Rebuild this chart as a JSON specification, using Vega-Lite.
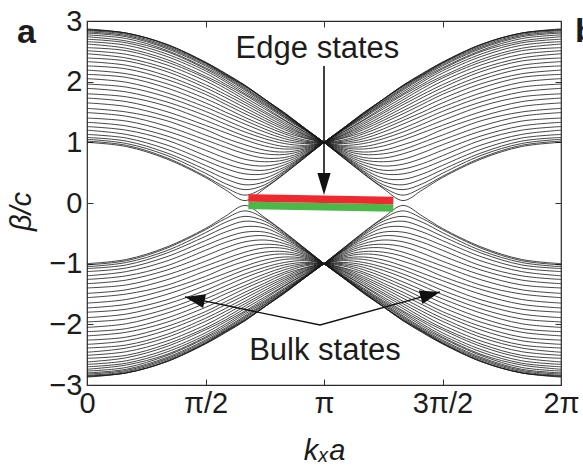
{
"$schema":"https://vega.github.io/schema/vega-lite/v6.json",
"width":474,"height":364,
"autosize":{"type":"none"},
"padding":{"left":87,"top":21,"right":22,"bottom":85},
"background":"#ffffff",
"config":{"font":"Liberation Sans","view":{"stroke":"#2a2a2a","strokeWidth":1.2}},
"resolve":{"axis":{"x":"independent","y":"independent"}},
"layer":[
{"data":{"values":"k,x,y\na1,0,2.87\na1,2,2.8\na1,4,2.62\na1,6,2.32\na1,7,2.14\na1,8,1.94\na1,9,1.71\na1,10,1.49\na1,11,1.24\na1,12,1\nb1,24,2.87\nb1,22,2.8\nb1,20,2.62\nb1,18,2.32\nb1,17,2.14\nb1,16,1.94\nb1,15,1.71\nb1,14,1.49\nb1,13,1.24\nb1,12,1\nc1,0,-2.87\nc1,2,-2.8\nc1,4,-2.62\nc1,6,-2.32\nc1,7,-2.14\nc1,8,-1.94\nc1,9,-1.71\nc1,10,-1.49\nc1,11,-1.24\nc1,12,-1\nd1,24,-2.87\nd1,22,-2.8\nd1,20,-2.62\nd1,18,-2.32\nd1,17,-2.14\nd1,16,-1.94\nd1,15,-1.71\nd1,14,-1.49\nd1,13,-1.24\nd1,12,-1\na2,0,2.86\na2,2,2.8\na2,4,2.62\na2,6,2.32\na2,7,2.13\na2,8,1.94\na2,9,1.71\na2,10,1.48\na2,11,1.24\na2,12,1\nb2,24,2.86\nb2,22,2.8\nb2,20,2.62\nb2,18,2.32\nb2,17,2.13\nb2,16,1.94\nb2,15,1.71\nb2,14,1.48\nb2,13,1.24\nb2,12,1\nc2,0,-2.86\nc2,2,-2.8\nc2,4,-2.62\nc2,6,-2.32\nc2,7,-2.13\nc2,8,-1.94\nc2,9,-1.71\nc2,10,-1.48\nc2,11,-1.24\nc2,12,-1\nd2,24,-2.86\nd2,22,-2.8\nd2,20,-2.62\nd2,18,-2.32\nd2,17,-2.13\nd2,16,-1.94\nd2,15,-1.71\nd2,14,-1.48\nd2,13,-1.24\nd2,12,-1\na3,0,2.85\na3,2,2.8\na3,4,2.61\na3,6,2.31\na3,7,2.12\na3,8,1.93\na3,9,1.71\na3,10,1.48\na3,11,1.24\na3,12,1\nb3,24,2.85\nb3,22,2.8\nb3,20,2.61\nb3,18,2.31\nb3,17,2.12\nb3,16,1.93\nb3,15,1.71\nb3,14,1.48\nb3,13,1.24\nb3,12,1\nc3,0,-2.85\nc3,2,-2.8\nc3,4,-2.61\nc3,6,-2.31\nc3,7,-2.12\nc3,8,-1.93\nc3,9,-1.71\nc3,10,-1.48\nc3,11,-1.24\nc3,12,-1\nd3,24,-2.85\nd3,22,-2.8\nd3,20,-2.61\nd3,18,-2.31\nd3,17,-2.12\nd3,16,-1.93\nd3,15,-1.71\nd3,14,-1.48\nd3,13,-1.24\nd3,12,-1\na4,0,2.84\na4,2,2.78\na4,4,2.59\na4,6,2.3\na4,7,2.11\na4,8,1.92\na4,9,1.7\na4,10,1.47\na4,11,1.23\na4,12,1\nb4,24,2.84\nb4,22,2.78\nb4,20,2.59\nb4,18,2.3\nb4,17,2.11\nb4,16,1.92\nb4,15,1.7\nb4,14,1.47\nb4,13,1.23\nb4,12,1\nc4,0,-2.84\nc4,2,-2.78\nc4,4,-2.59\nc4,6,-2.3\nc4,7,-2.11\nc4,8,-1.92\nc4,9,-1.7\nc4,10,-1.47\nc4,11,-1.23\nc4,12,-1\nd4,24,-2.84\nd4,22,-2.78\nd4,20,-2.59\nd4,18,-2.3\nd4,17,-2.11\nd4,16,-1.92\nd4,15,-1.7\nd4,14,-1.47\nd4,13,-1.23\nd4,12,-1\na5,0,2.82\na5,2,2.76\na5,4,2.57\na5,6,2.28\na5,7,2.1\na5,8,1.9\na5,9,1.68\na5,10,1.46\na5,11,1.23\na5,12,1\nb5,24,2.82\nb5,22,2.76\nb5,20,2.57\nb5,18,2.28\nb5,17,2.1\nb5,16,1.9\nb5,15,1.68\nb5,14,1.46\nb5,13,1.23\nb5,12,1\nc5,0,-2.82\nc5,2,-2.76\nc5,4,-2.57\nc5,6,-2.28\nc5,7,-2.1\nc5,8,-1.9\nc5,9,-1.68\nc5,10,-1.46\nc5,11,-1.23\nc5,12,-1\nd5,24,-2.82\nd5,22,-2.76\nd5,20,-2.57\nd5,18,-2.28\nd5,17,-2.1\nd5,16,-1.9\nd5,15,-1.68\nd5,14,-1.46\nd5,13,-1.23\nd5,12,-1\na6,0,2.8\na6,2,2.74\na6,4,2.55\na6,6,2.26\na6,7,2.08\na6,8,1.88\na6,9,1.67\na6,10,1.45\na6,11,1.22\na6,12,1\nb6,24,2.8\nb6,22,2.74\nb6,20,2.55\nb6,18,2.26\nb6,17,2.08\nb6,16,1.88\nb6,15,1.67\nb6,14,1.45\nb6,13,1.22\nb6,12,1\nc6,0,-2.8\nc6,2,-2.74\nc6,4,-2.55\nc6,6,-2.26\nc6,7,-2.08\nc6,8,-1.88\nc6,9,-1.67\nc6,10,-1.45\nc6,11,-1.22\nc6,12,-1\nd6,24,-2.8\nd6,22,-2.74\nd6,20,-2.55\nd6,18,-2.26\nd6,17,-2.08\nd6,16,-1.88\nd6,15,-1.67\nd6,14,-1.45\nd6,13,-1.22\nd6,12,-1\na7,0,2.77\na7,2,2.71\na7,4,2.52\na7,6,2.23\na7,7,2.06\na7,8,1.86\na7,9,1.65\na7,10,1.43\na7,11,1.22\na7,12,1\nb7,24,2.77\nb7,22,2.71\nb7,20,2.52\nb7,18,2.23\nb7,17,2.06\nb7,16,1.86\nb7,15,1.65\nb7,14,1.43\nb7,13,1.22\nb7,12,1\nc7,0,-2.77\nc7,2,-2.71\nc7,4,-2.52\nc7,6,-2.23\nc7,7,-2.06\nc7,8,-1.86\nc7,9,-1.65\nc7,10,-1.43\nc7,11,-1.22\nc7,12,-1\nd7,24,-2.77\nd7,22,-2.71\nd7,20,-2.52\nd7,18,-2.23\nd7,17,-2.06\nd7,16,-1.86\nd7,15,-1.65\nd7,14,-1.43\nd7,13,-1.22\nd7,12,-1\na8,0,2.74\na8,2,2.67\na8,4,2.5\na8,6,2.21\na8,7,2.03\na8,8,1.83\na8,9,1.63\na8,10,1.42\na8,11,1.21\na8,12,1\nb8,24,2.74\nb8,22,2.67\nb8,20,2.5\nb8,18,2.21\nb8,17,2.03\nb8,16,1.83\nb8,15,1.63\nb8,14,1.42\nb8,13,1.21\nb8,12,1\nc8,0,-2.74\nc8,2,-2.67\nc8,4,-2.5\nc8,6,-2.21\nc8,7,-2.03\nc8,8,-1.83\nc8,9,-1.63\nc8,10,-1.42\nc8,11,-1.21\nc8,12,-1\nd8,24,-2.74\nd8,22,-2.67\nd8,20,-2.5\nd8,18,-2.21\nd8,17,-2.03\nd8,16,-1.83\nd8,15,-1.63\nd8,14,-1.42\nd8,13,-1.21\nd8,12,-1\na9,0,2.7\na9,2,2.64\na9,4,2.46\na9,6,2.18\na9,7,2\na9,8,1.8\na9,9,1.61\na9,10,1.4\na9,11,1.2\na9,12,1\nb9,24,2.7\nb9,22,2.64\nb9,20,2.46\nb9,18,2.18\nb9,17,2\nb9,16,1.8\nb9,15,1.61\nb9,14,1.4\nb9,13,1.2\nb9,12,1\nc9,0,-2.7\nc9,2,-2.64\nc9,4,-2.46\nc9,6,-2.18\nc9,7,-2\nc9,8,-1.8\nc9,9,-1.61\nc9,10,-1.4\nc9,11,-1.2\nc9,12,-1\nd9,24,-2.7\nd9,22,-2.64\nd9,20,-2.46\nd9,18,-2.18\nd9,17,-2\nd9,16,-1.8\nd9,15,-1.61\nd9,14,-1.4\nd9,13,-1.2\nd9,12,-1\na10,0,2.66\na10,2,2.6\na10,4,2.42\na10,6,2.14\na10,7,1.96\na10,8,1.78\na10,9,1.58\na10,10,1.37\na10,11,1.18\na10,12,1\nb10,24,2.66\nb10,22,2.6\nb10,20,2.42\nb10,18,2.14\nb10,17,1.96\nb10,16,1.78\nb10,15,1.58\nb10,14,1.37\nb10,13,1.18\nb10,12,1\nc10,0,-2.66\nc10,2,-2.6\nc10,4,-2.42\nc10,6,-2.14\nc10,7,-1.96\nc10,8,-1.78\nc10,9,-1.58\nc10,10,-1.37\nc10,11,-1.18\nc10,12,-1\nd10,24,-2.66\nd10,22,-2.6\nd10,20,-2.42\nd10,18,-2.14\nd10,17,-1.96\nd10,16,-1.78\nd10,15,-1.58\nd10,14,-1.37\nd10,13,-1.18\nd10,12,-1\na11,0,2.62\na11,2,2.55\na11,4,2.37\na11,6,2.09\na11,7,1.93\na11,8,1.74\na11,9,1.55\na11,10,1.36\na11,11,1.17\na11,12,1\nb11,24,2.62\nb11,22,2.55\nb11,20,2.37\nb11,18,2.09\nb11,17,1.93\nb11,16,1.74\nb11,15,1.55\nb11,14,1.36\nb11,13,1.17\nb11,12,1\nc11,0,-2.62\nc11,2,-2.55\nc11,4,-2.37\nc11,6,-2.09\nc11,7,-1.93\nc11,8,-1.74\nc11,9,-1.55\nc11,10,-1.36\nc11,11,-1.17\nc11,12,-1\nd11,24,-2.62\nd11,22,-2.55\nd11,20,-2.37\nd11,18,-2.09\nd11,17,-1.93\nd11,16,-1.74\nd11,15,-1.55\nd11,14,-1.36\nd11,13,-1.17\nd11,12,-1\na12,0,2.56\na12,2,2.51\na12,4,2.33\na12,6,2.06\na12,7,1.89\na12,8,1.7\na12,9,1.51\na12,10,1.33\na12,11,1.15\na12,12,1\nb12,24,2.56\nb12,22,2.51\nb12,20,2.33\nb12,18,2.06\nb12,17,1.89\nb12,16,1.7\nb12,15,1.51\nb12,14,1.33\nb12,13,1.15\nb12,12,1\nc12,0,-2.56\nc12,2,-2.51\nc12,4,-2.33\nc12,6,-2.06\nc12,7,-1.89\nc12,8,-1.7\nc12,9,-1.51\nc12,10,-1.33\nc12,11,-1.15\nc12,12,-1\nd12,24,-2.56\nd12,22,-2.51\nd12,20,-2.33\nd12,18,-2.06\nd12,17,-1.89\nd12,16,-1.7\nd12,15,-1.51\nd12,14,-1.33\nd12,13,-1.15\nd12,12,-1\na13,0,2.51\na13,2,2.45\na13,4,2.28\na13,6,2.01\na13,7,1.84\na13,8,1.66\na13,9,1.48\na13,10,1.3\na13,11,1.13\na13,12,1\nb13,24,2.51\nb13,22,2.45\nb13,20,2.28\nb13,18,2.01\nb13,17,1.84\nb13,16,1.66\nb13,15,1.48\nb13,14,1.3\nb13,13,1.13\nb13,12,1\nc13,0,-2.51\nc13,2,-2.45\nc13,4,-2.28\nc13,6,-2.01\nc13,7,-1.84\nc13,8,-1.66\nc13,9,-1.48\nc13,10,-1.3\nc13,11,-1.13\nc13,12,-1\nd13,24,-2.51\nd13,22,-2.45\nd13,20,-2.28\nd13,18,-2.01\nd13,17,-1.84\nd13,16,-1.66\nd13,15,-1.48\nd13,14,-1.3\nd13,13,-1.13\nd13,12,-1\na14,0,2.46\na14,2,2.39\na14,4,2.22\na14,6,1.95\na14,7,1.79\na14,8,1.62\na14,9,1.44\na14,10,1.27\na14,11,1.12\na14,12,1\nb14,24,2.46\nb14,22,2.39\nb14,20,2.22\nb14,18,1.95\nb14,17,1.79\nb14,16,1.62\nb14,15,1.44\nb14,14,1.27\nb14,13,1.12\nb14,12,1\nc14,0,-2.46\nc14,2,-2.39\nc14,4,-2.22\nc14,6,-1.95\nc14,7,-1.79\nc14,8,-1.62\nc14,9,-1.44\nc14,10,-1.27\nc14,11,-1.12\nc14,12,-1\nd14,24,-2.46\nd14,22,-2.39\nd14,20,-2.22\nd14,18,-1.95\nd14,17,-1.79\nd14,16,-1.62\nd14,15,-1.44\nd14,14,-1.27\nd14,13,-1.12\nd14,12,-1\na15,0,2.39\na15,2,2.34\na15,4,2.17\na15,6,1.9\na15,7,1.74\na15,8,1.57\na15,9,1.4\na15,10,1.24\na15,11,1.1\na15,12,1\nb15,24,2.39\nb15,22,2.34\nb15,20,2.17\nb15,18,1.9\nb15,17,1.74\nb15,16,1.57\nb15,15,1.4\nb15,14,1.24\nb15,13,1.1\nb15,12,1\nc15,0,-2.39\nc15,2,-2.34\nc15,4,-2.17\nc15,6,-1.9\nc15,7,-1.74\nc15,8,-1.57\nc15,9,-1.4\nc15,10,-1.24\nc15,11,-1.1\nc15,12,-1\nd15,24,-2.39\nd15,22,-2.34\nd15,20,-2.17\nd15,18,-1.9\nd15,17,-1.74\nd15,16,-1.57\nd15,15,-1.4\nd15,14,-1.24\nd15,13,-1.1\nd15,12,-1\na16,0,2.33\na16,2,2.27\na16,4,2.1\na16,6,1.84\na16,7,1.68\na16,8,1.52\na16,9,1.36\na16,10,1.21\na16,11,1.08\na16,12,1\nb16,24,2.33\nb16,22,2.27\nb16,20,2.1\nb16,18,1.84\nb16,17,1.68\nb16,16,1.52\nb16,15,1.36\nb16,14,1.21\nb16,13,1.08\nb16,12,1\nc16,0,-2.33\nc16,2,-2.27\nc16,4,-2.1\nc16,6,-1.84\nc16,7,-1.68\nc16,8,-1.52\nc16,9,-1.36\nc16,10,-1.21\nc16,11,-1.08\nc16,12,-1\nd16,24,-2.33\nd16,22,-2.27\nd16,20,-2.1\nd16,18,-1.84\nd16,17,-1.68\nd16,16,-1.52\nd16,15,-1.36\nd16,14,-1.21\nd16,13,-1.08\nd16,12,-1\na17,0,2.26\na17,2,2.21\na17,4,2.04\na17,6,1.79\na17,7,1.63\na17,8,1.47\na17,9,1.32\na17,10,1.17\na17,11,1.07\na17,12,1\nb17,24,2.26\nb17,22,2.21\nb17,20,2.04\nb17,18,1.79\nb17,17,1.63\nb17,16,1.47\nb17,15,1.32\nb17,14,1.17\nb17,13,1.07\nb17,12,1\nc17,0,-2.26\nc17,2,-2.21\nc17,4,-2.04\nc17,6,-1.79\nc17,7,-1.63\nc17,8,-1.47\nc17,9,-1.32\nc17,10,-1.17\nc17,11,-1.07\nc17,12,-1\nd17,24,-2.26\nd17,22,-2.21\nd17,20,-2.04\nd17,18,-1.79\nd17,17,-1.63\nd17,16,-1.47\nd17,15,-1.32\nd17,14,-1.17\nd17,13,-1.07\nd17,12,-1\na18,0,2.19\na18,2,2.13\na18,4,1.97\na18,6,1.72\na18,7,1.57\na18,8,1.41\na18,9,1.27\na18,10,1.14\na18,11,1.04\na18,12,1\nb18,24,2.19\nb18,22,2.13\nb18,20,1.97\nb18,18,1.72\nb18,17,1.57\nb18,16,1.41\nb18,15,1.27\nb18,14,1.14\nb18,13,1.04\nb18,12,1\nc18,0,-2.19\nc18,2,-2.13\nc18,4,-1.97\nc18,6,-1.72\nc18,7,-1.57\nc18,8,-1.41\nc18,9,-1.27\nc18,10,-1.14\nc18,11,-1.04\nc18,12,-1\nd18,24,-2.19\nd18,22,-2.13\nd18,20,-1.97\nd18,18,-1.72\nd18,17,-1.57\nd18,16,-1.41\nd18,15,-1.27\nd18,14,-1.14\nd18,13,-1.04\nd18,12,-1\na19,0,2.12\na19,2,2.07\na19,4,1.9\na19,6,1.65\na19,7,1.5\na19,8,1.36\na19,9,1.22\na19,10,1.1\na19,11,1.02\na19,12,1\nb19,24,2.12\nb19,22,2.07\nb19,20,1.9\nb19,18,1.65\nb19,17,1.5\nb19,16,1.36\nb19,15,1.22\nb19,14,1.1\nb19,13,1.02\nb19,12,1\nc19,0,-2.12\nc19,2,-2.07\nc19,4,-1.9\nc19,6,-1.65\nc19,7,-1.5\nc19,8,-1.36\nc19,9,-1.22\nc19,10,-1.1\nc19,11,-1.02\nc19,12,-1\nd19,24,-2.12\nd19,22,-2.07\nd19,20,-1.9\nd19,18,-1.65\nd19,17,-1.5\nd19,16,-1.36\nd19,15,-1.22\nd19,14,-1.1\nd19,13,-1.02\nd19,12,-1\na20,0,2.05\na20,2,1.99\na20,4,1.82\na20,6,1.58\na20,7,1.44\na20,8,1.3\na20,9,1.17\na20,10,1.06\na20,11,1\na20,12,1\nb20,24,2.05\nb20,22,1.99\nb20,20,1.82\nb20,18,1.58\nb20,17,1.44\nb20,16,1.3\nb20,15,1.17\nb20,14,1.06\nb20,13,1\nb20,12,1\nc20,0,-2.05\nc20,2,-1.99\nc20,4,-1.82\nc20,6,-1.58\nc20,7,-1.44\nc20,8,-1.3\nc20,9,-1.17\nc20,10,-1.06\nc20,11,-1\nc20,12,-1\nd20,24,-2.05\nd20,22,-1.99\nd20,20,-1.82\nd20,18,-1.58\nd20,17,-1.44\nd20,16,-1.3\nd20,15,-1.17\nd20,14,-1.06\nd20,13,-1\nd20,12,-1\na21,0,1.96\na21,2,1.91\na21,4,1.75\na21,6,1.51\na21,7,1.37\na21,8,1.23\na21,9,1.11\na21,10,1.02\na21,11,0.98\na21,12,1\nb21,24,1.96\nb21,22,1.91\nb21,20,1.75\nb21,18,1.51\nb21,17,1.37\nb21,16,1.23\nb21,15,1.11\nb21,14,1.02\nb21,13,0.98\nb21,12,1\nc21,0,-1.96\nc21,2,-1.91\nc21,4,-1.75\nc21,6,-1.51\nc21,7,-1.37\nc21,8,-1.23\nc21,9,-1.11\nc21,10,-1.02\nc21,11,-0.98\nc21,12,-1\nd21,24,-1.96\nd21,22,-1.91\nd21,20,-1.75\nd21,18,-1.51\nd21,17,-1.37\nd21,16,-1.23\nd21,15,-1.11\nd21,14,-1.02\nd21,13,-0.98\nd21,12,-1\na22,0,1.89\na22,2,1.83\na22,4,1.67\na22,6,1.44\na22,7,1.3\na22,8,1.17\na22,9,1.06\na22,10,0.98\na22,11,0.95\na22,12,1\nb22,24,1.89\nb22,22,1.83\nb22,20,1.67\nb22,18,1.44\nb22,17,1.3\nb22,16,1.17\nb22,15,1.06\nb22,14,0.98\nb22,13,0.95\nb22,12,1\nc22,0,-1.89\nc22,2,-1.83\nc22,4,-1.67\nc22,6,-1.44\nc22,7,-1.3\nc22,8,-1.17\nc22,9,-1.06\nc22,10,-0.98\nc22,11,-0.95\nc22,12,-1\nd22,24,-1.89\nd22,22,-1.83\nd22,20,-1.67\nd22,18,-1.44\nd22,17,-1.3\nd22,16,-1.17\nd22,15,-1.06\nd22,14,-0.98\nd22,13,-0.95\nd22,12,-1\na23,0,1.8\na23,2,1.75\na23,4,1.6\na23,6,1.36\na23,7,1.23\na23,8,1.1\na23,9,1\na23,10,0.93\na23,11,0.93\na23,12,1\nb23,24,1.8\nb23,22,1.75\nb23,20,1.6\nb23,18,1.36\nb23,17,1.23\nb23,16,1.1\nb23,15,1\nb23,14,0.93\nb23,13,0.93\nb23,12,1\nc23,0,-1.8\nc23,2,-1.75\nc23,4,-1.6\nc23,6,-1.36\nc23,7,-1.23\nc23,8,-1.1\nc23,9,-1\nc23,10,-0.93\nc23,11,-0.93\nc23,12,-1\nd23,24,-1.8\nd23,22,-1.75\nd23,20,-1.6\nd23,18,-1.36\nd23,17,-1.23\nd23,16,-1.1\nd23,15,-1\nd23,14,-0.93\nd23,13,-0.93\nd23,12,-1\na24,0,1.73\na24,2,1.67\na24,4,1.51\na24,6,1.28\na24,7,1.16\na24,8,1.04\na24,9,0.94\na24,10,0.89\na24,11,0.91\na24,12,1\nb24,24,1.73\nb24,22,1.67\nb24,20,1.51\nb24,18,1.28\nb24,17,1.16\nb24,16,1.04\nb24,15,0.94\nb24,14,0.89\nb24,13,0.91\nb24,12,1\nc24,0,-1.73\nc24,2,-1.67\nc24,4,-1.51\nc24,6,-1.28\nc24,7,-1.16\nc24,8,-1.04\nc24,9,-0.94\nc24,10,-0.89\nc24,11,-0.91\nc24,12,-1\nd24,24,-1.73\nd24,22,-1.67\nd24,20,-1.51\nd24,18,-1.28\nd24,17,-1.16\nd24,16,-1.04\nd24,15,-0.94\nd24,14,-0.89\nd24,13,-0.91\nd24,12,-1\na25,0,1.65\na25,2,1.59\na25,4,1.43\na25,6,1.21\na25,7,1.07\na25,8,0.96\na25,9,0.87\na25,10,0.84\na25,11,0.89\na25,12,1\nb25,24,1.65\nb25,22,1.59\nb25,20,1.43\nb25,18,1.21\nb25,17,1.07\nb25,16,0.96\nb25,15,0.87\nb25,14,0.84\nb25,13,0.89\nb25,12,1\nc25,0,-1.65\nc25,2,-1.59\nc25,4,-1.43\nc25,6,-1.21\nc25,7,-1.07\nc25,8,-0.96\nc25,9,-0.87\nc25,10,-0.84\nc25,11,-0.89\nc25,12,-1\nd25,24,-1.65\nd25,22,-1.59\nd25,20,-1.43\nd25,18,-1.21\nd25,17,-1.07\nd25,16,-0.96\nd25,15,-0.87\nd25,14,-0.84\nd25,13,-0.89\nd25,12,-1\na26,0,1.56\na26,2,1.5\na26,4,1.36\na26,6,1.12\na26,7,1\na26,8,0.88\na26,9,0.81\na26,10,0.8\na26,11,0.87\na26,12,1\nb26,24,1.56\nb26,22,1.5\nb26,20,1.36\nb26,18,1.12\nb26,17,1\nb26,16,0.88\nb26,15,0.81\nb26,14,0.8\nb26,13,0.87\nb26,12,1\nc26,0,-1.56\nc26,2,-1.5\nc26,4,-1.36\nc26,6,-1.12\nc26,7,-1\nc26,8,-0.88\nc26,9,-0.81\nc26,10,-0.8\nc26,11,-0.87\nc26,12,-1\nd26,24,-1.56\nd26,22,-1.5\nd26,20,-1.36\nd26,18,-1.12\nd26,17,-1\nd26,16,-0.88\nd26,15,-0.81\nd26,14,-0.8\nd26,13,-0.87\nd26,12,-1\na27,0,1.49\na27,2,1.43\na27,4,1.27\na27,6,1.04\na27,7,0.92\na27,8,0.81\na27,9,0.74\na27,10,0.75\na27,11,0.85\na27,12,1\nb27,24,1.49\nb27,22,1.43\nb27,20,1.27\nb27,18,1.04\nb27,17,0.92\nb27,16,0.81\nb27,15,0.74\nb27,14,0.75\nb27,13,0.85\nb27,12,1\nc27,0,-1.49\nc27,2,-1.43\nc27,4,-1.27\nc27,6,-1.04\nc27,7,-0.92\nc27,8,-0.81\nc27,9,-0.74\nc27,10,-0.75\nc27,11,-0.85\nc27,12,-1\nd27,24,-1.49\nd27,22,-1.43\nd27,20,-1.27\nd27,18,-1.04\nd27,17,-0.92\nd27,16,-0.81\nd27,15,-0.74\nd27,14,-0.75\nd27,13,-0.85\nd27,12,-1\na28,0,1.4\na28,2,1.35\na28,4,1.19\na28,6,0.96\na28,7,0.83\na28,8,0.72\na28,9,0.68\na28,10,0.71\na28,11,0.83\na28,12,1\nb28,24,1.4\nb28,22,1.35\nb28,20,1.19\nb28,18,0.96\nb28,17,0.83\nb28,16,0.72\nb28,15,0.68\nb28,14,0.71\nb28,13,0.83\nb28,12,1\nc28,0,-1.4\nc28,2,-1.35\nc28,4,-1.19\nc28,6,-0.96\nc28,7,-0.83\nc28,8,-0.72\nc28,9,-0.68\nc28,10,-0.71\nc28,11,-0.83\nc28,12,-1\nd28,24,-1.4\nd28,22,-1.35\nd28,20,-1.19\nd28,18,-0.96\nd28,17,-0.83\nd28,16,-0.72\nd28,15,-0.68\nd28,14,-0.71\nd28,13,-0.83\nd28,12,-1\na29,0,1.33\na29,2,1.27\na29,4,1.11\na29,6,0.87\na29,7,0.74\na29,8,0.64\na29,9,0.61\na29,10,0.67\na29,11,0.81\na29,12,1\nb29,24,1.33\nb29,22,1.27\nb29,20,1.11\nb29,18,0.87\nb29,17,0.74\nb29,16,0.64\nb29,15,0.61\nb29,14,0.67\nb29,13,0.81\nb29,12,1\nc29,0,-1.33\nc29,2,-1.27\nc29,4,-1.11\nc29,6,-0.87\nc29,7,-0.74\nc29,8,-0.64\nc29,9,-0.61\nc29,10,-0.67\nc29,11,-0.81\nc29,12,-1\nd29,24,-1.33\nd29,22,-1.27\nd29,20,-1.11\nd29,18,-0.87\nd29,17,-0.74\nd29,16,-0.64\nd29,15,-0.61\nd29,14,-0.67\nd29,13,-0.81\nd29,12,-1\na30,0,1.26\na30,2,1.2\na30,4,1.04\na30,6,0.78\na30,7,0.65\na30,8,0.56\na30,9,0.54\na30,10,0.63\na30,11,0.79\na30,12,1\nb30,24,1.26\nb30,22,1.2\nb30,20,1.04\nb30,18,0.78\nb30,17,0.65\nb30,16,0.56\nb30,15,0.54\nb30,14,0.63\nb30,13,0.79\nb30,12,1\nc30,0,-1.26\nc30,2,-1.2\nc30,4,-1.04\nc30,6,-0.78\nc30,7,-0.65\nc30,8,-0.56\nc30,9,-0.54\nc30,10,-0.63\nc30,11,-0.79\nc30,12,-1\nd30,24,-1.26\nd30,22,-1.2\nd30,20,-1.04\nd30,18,-0.78\nd30,17,-0.65\nd30,16,-0.56\nd30,15,-0.54\nd30,14,-0.63\nd30,13,-0.79\nd30,12,-1\na31,0,1.2\na31,2,1.13\na31,4,0.96\na31,6,0.7\na31,7,0.57\na31,8,0.48\na31,9,0.48\na31,10,0.59\na31,11,0.78\na31,12,1\nb31,24,1.2\nb31,22,1.13\nb31,20,0.96\nb31,18,0.7\nb31,17,0.57\nb31,16,0.48\nb31,15,0.48\nb31,14,0.59\nb31,13,0.78\nb31,12,1\nc31,0,-1.2\nc31,2,-1.13\nc31,4,-0.96\nc31,6,-0.7\nc31,7,-0.57\nc31,8,-0.48\nc31,9,-0.48\nc31,10,-0.59\nc31,11,-0.78\nc31,12,-1\nd31,24,-1.2\nd31,22,-1.13\nd31,20,-0.96\nd31,18,-0.7\nd31,17,-0.57\nd31,16,-0.48\nd31,15,-0.48\nd31,14,-0.59\nd31,13,-0.78\nd31,12,-1\na32,0,1.13\na32,2,1.07\na32,4,0.89\na32,6,0.62\na32,7,0.48\na32,8,0.39\na32,9,0.41\na32,10,0.56\na32,11,0.77\na32,12,1\nb32,24,1.13\nb32,22,1.07\nb32,20,0.89\nb32,18,0.62\nb32,17,0.48\nb32,16,0.39\nb32,15,0.41\nb32,14,0.56\nb32,13,0.77\nb32,12,1\nc32,0,-1.13\nc32,2,-1.07\nc32,4,-0.89\nc32,6,-0.62\nc32,7,-0.48\nc32,8,-0.39\nc32,9,-0.41\nc32,10,-0.56\nc32,11,-0.77\nc32,12,-1\nd32,24,-1.13\nd32,22,-1.07\nd32,20,-0.89\nd32,18,-0.62\nd32,17,-0.48\nd32,16,-0.39\nd32,15,-0.41\nd32,14,-0.56\nd32,13,-0.77\nd32,12,-1\na33,0,1.08\na33,2,1.02\na33,4,0.83\na33,6,0.55\na33,7,0.4\na33,8,0.3\na33,9,0.35\na33,10,0.53\na33,11,0.76\na33,12,1\nb33,24,1.08\nb33,22,1.02\nb33,20,0.83\nb33,18,0.55\nb33,17,0.4\nb33,16,0.3\nb33,15,0.35\nb33,14,0.53\nb33,13,0.76\nb33,12,1\nc33,0,-1.08\nc33,2,-1.02\nc33,4,-0.83\nc33,6,-0.55\nc33,7,-0.4\nc33,8,-0.3\nc33,9,-0.35\nc33,10,-0.53\nc33,11,-0.76\nc33,12,-1\nd33,24,-1.08\nd33,22,-1.02\nd33,20,-0.83\nd33,18,-0.55\nd33,17,-0.4\nd33,16,-0.3\nd33,15,-0.35\nd33,14,-0.53\nd33,13,-0.76\nd33,12,-1\na34,0,1.05\na34,2,0.98\na34,4,0.79\na34,6,0.49\na34,7,0.32\na34,8,0.22\na34,9,0.3\na34,10,0.51\na34,11,0.75\na34,12,1\nb34,24,1.05\nb34,22,0.98\nb34,20,0.79\nb34,18,0.49\nb34,17,0.32\nb34,16,0.22\nb34,15,0.3\nb34,14,0.51\nb34,13,0.75\nb34,12,1\nc34,0,-1.05\nc34,2,-0.98\nc34,4,-0.79\nc34,6,-0.49\nc34,7,-0.32\nc34,8,-0.22\nc34,9,-0.3\nc34,10,-0.51\nc34,11,-0.75\nc34,12,-1\nd34,24,-1.05\nd34,22,-0.98\nd34,20,-0.79\nd34,18,-0.49\nd34,17,-0.32\nd34,16,-0.22\nd34,15,-0.3\nd34,14,-0.51\nd34,13,-0.75\nd34,12,-1\na35,0,1.02\na35,2,0.95\na35,4,0.75\na35,6,0.44\na35,7,0.26\na35,8,0.13\na35,9,0.26\na35,10,0.49\na35,11,0.74\na35,12,1\nb35,24,1.02\nb35,22,0.95\nb35,20,0.75\nb35,18,0.44\nb35,17,0.26\nb35,16,0.13\nb35,15,0.26\nb35,14,0.49\nb35,13,0.74\nb35,12,1\nc35,0,-1.02\nc35,2,-0.95\nc35,4,-0.75\nc35,6,-0.44\nc35,7,-0.26\nc35,8,-0.13\nc35,9,-0.26\nc35,10,-0.49\nc35,11,-0.74\nc35,12,-1\nd35,24,-1.02\nd35,22,-0.95\nd35,20,-0.75\nd35,18,-0.44\nd35,17,-0.26\nd35,16,-0.13\nd35,15,-0.26\nd35,14,-0.49\nd35,13,-0.74\nd35,12,-1\na36,0,1\na36,2,0.93\na36,4,0.73\na36,6,0.42\na36,7,0.22\na36,8,0.04\na36,9,0.24\na36,10,0.48\na36,11,0.74\na36,12,1\nb36,24,1\nb36,22,0.93\nb36,20,0.73\nb36,18,0.42\nb36,17,0.22\nb36,16,0.04\nb36,15,0.24\nb36,14,0.48\nb36,13,0.74\nb36,12,1\nc36,0,-1\nc36,2,-0.93\nc36,4,-0.73\nc36,6,-0.42\nc36,7,-0.22\nc36,8,-0.04\nc36,9,-0.24\nc36,10,-0.48\nc36,11,-0.74\nc36,12,-1\nd36,24,-1\nd36,22,-0.93\nd36,20,-0.73\nd36,18,-0.42\nd36,17,-0.22\nd36,16,-0.04\nd36,15,-0.24\nd36,14,-0.48\nd36,13,-0.74\nd36,12,-1","format":{"type":"csv","parse":{"x":"number","y":"number"}}},
 "mark":{"type":"line","interpolate":"catmull-rom","stroke":"#161616","strokeWidth":0.8},
 "encoding":{
  "x":{"field":"x","type":"quantitative","scale":{"domain":[0,24],"nice":false,"zero":false},
   "axis":{"orient":"bottom","values":[0,6,12,18,24],"labelExpr":"datum.value==0?'0':datum.value==6?'π/2':datum.value==12?'π':datum.value==18?'3π/2':'2π'","labelFont":"Liberation Sans","labelFontSize":29,"labelColor":"#1c1c1c","labelFlush":false,"labelOverlap":false,"labelBound":false,"tickSize":-6,"tickColor":"#333333","tickWidth":1,"labelPadding":10,"domain":false,"grid":false,"title":"kₓa","titleFont":"Liberation Sans","titleFontSize":29,"titleFontStyle":"italic","titleFontWeight":"normal","titleColor":"#1c1c1c","titlePadding":18}},
  "y":{"field":"y","type":"quantitative","scale":{"domain":[-3,3],"nice":false,"zero":false},
   "axis":{"orient":"left","values":[-3,-2,-1,0,1,2,3],"format":"d","labelFont":"Liberation Sans","labelFontSize":29,"labelColor":"#1c1c1c","labelFlush":false,"labelOverlap":false,"labelBound":false,"tickSize":-6,"tickColor":"#333333","tickWidth":1,"labelPadding":11,"domain":false,"grid":false,"title":"β/c","titleFont":"Liberation Sans","titleFontSize":29,"titleFontStyle":"italic","titleFontWeight":"normal","titleColor":"#1c1c1c","titlePadding":12,"titleY":190}},
  "detail":{"field":"k","type":"nominal"}}},
{"data":{"values":[{"x":8.17,"y":-0.041},{"x":15.51,"y":-0.082}]},
 "mark":{"type":"line","stroke":"#4cb84a","strokeWidth":7.5,"strokeCap":"butt"},
 "encoding":{"x":{"field":"x","type":"quantitative","scale":{"domain":[0,24],"nice":false,"zero":false},"axis":null},"y":{"field":"y","type":"quantitative","scale":{"domain":[-3,3],"nice":false,"zero":false},"axis":null}}},
{"data":{"values":[{"x":8.17,"y":0.083},{"x":15.51,"y":0.041}]},
 "mark":{"type":"line","stroke":"#ee2a30","strokeWidth":7.5,"strokeCap":"butt"},
 "encoding":{"x":{"field":"x","type":"quantitative","scale":{"domain":[0,24],"nice":false,"zero":false},"axis":null},"y":{"field":"y","type":"quantitative","scale":{"domain":[-3,3],"nice":false,"zero":false},"axis":null}}},
{"data":{"values":[{"x":12,"y":2.258,"y2":0.495}]},
 "mark":{"type":"rule","stroke":"#111111","strokeWidth":1.6},
 "encoding":{"x":{"field":"x","type":"quantitative","scale":{"domain":[0,24],"nice":false,"zero":false},"axis":{"orient":"top","values":[0,6,12,18,24],"labels":false,"tickSize":-6,"tickColor":"#333333","domain":false,"grid":false,"title":null}},
  "y":{"field":"y","type":"quantitative","scale":{"domain":[-3,3],"nice":false,"zero":false},"axis":{"orient":"right","values":[-3,-2,-1,0,1,2,3],"labels":false,"tickSize":-6,"tickColor":"#333333","domain":false,"grid":false,"title":null}},
  "y2":{"field":"y2"}}},
{"data":{"values":[{"x":12,"y":0.132}]},
 "mark":{"type":"point","shape":"M0,0L-0.3,1L0.3,1Z","filled":true,"color":"#111111","opacity":1,"size":1936,"angle":180},
 "encoding":{"x":{"field":"x","type":"quantitative","scale":{"domain":[0,24],"nice":false,"zero":false},"axis":null},"y":{"field":"y","type":"quantitative","scale":{"domain":[-3,3],"nice":false,"zero":false},"axis":null}}},
{"data":{"values":[{"x":4.96,"y":-1.549},{"x":11.8,"y":-2.011},{"x":17.87,"y":-1.467}]},
 "mark":{"type":"line","stroke":"#111111","strokeWidth":1.3},
 "encoding":{"x":{"field":"x","type":"quantitative","scale":{"domain":[0,24],"nice":false,"zero":false},"axis":null},"y":{"field":"y","type":"quantitative","scale":{"domain":[-3,3],"nice":false,"zero":false},"axis":null}}},
{"data":{"values":[{"x":4.96,"y":-1.549}]},
 "mark":{"type":"point","shape":"M0,0L-0.35,1L0.35,1Z","filled":true,"color":"#111111","opacity":1,"size":1600,"angle":281.7},
 "encoding":{"x":{"field":"x","type":"quantitative","scale":{"domain":[0,24],"nice":false,"zero":false},"axis":null},"y":{"field":"y","type":"quantitative","scale":{"domain":[-3,3],"nice":false,"zero":false},"axis":null}}},
{"data":{"values":[{"x":17.87,"y":-1.467}]},
 "mark":{"type":"point","shape":"M0,0L-0.35,1L0.35,1Z","filled":true,"color":"#111111","opacity":1,"size":1600,"angle":74.6},
 "encoding":{"x":{"field":"x","type":"quantitative","scale":{"domain":[0,24],"nice":false,"zero":false},"axis":null},"y":{"field":"y","type":"quantitative","scale":{"domain":[-3,3],"nice":false,"zero":false},"axis":null}}},
{"data":{"values":[{"t":"Edge states","x":11.67,"y":2.385},{"t":"Bulk states","x":12.05,"y":-2.588}]},
 "mark":{"type":"text","font":"Liberation Sans","fontSize":31,"color":"#1c1c1c","align":"center","baseline":"alphabetic"},
 "encoding":{"x":{"field":"x","type":"quantitative","scale":{"domain":[0,24],"nice":false,"zero":false},"axis":null},"y":{"field":"y","type":"quantitative","scale":{"domain":[-3,3],"nice":false,"zero":false},"axis":null},"text":{"field":"t"}}},
{"data":{"values":[{"t":"a","x":-3.54,"y":2.637},{"t":"b","x":24.71,"y":2.654}]},
 "mark":{"type":"text","font":"Liberation Sans","fontSize":34,"fontWeight":"bold","color":"#1c1c1c","align":"left","baseline":"alphabetic"},
 "encoding":{"x":{"field":"x","type":"quantitative","scale":{"domain":[0,24],"nice":false,"zero":false},"axis":null},"y":{"field":"y","type":"quantitative","scale":{"domain":[-3,3],"nice":false,"zero":false},"axis":null},"text":{"field":"t"}}}
]
}
